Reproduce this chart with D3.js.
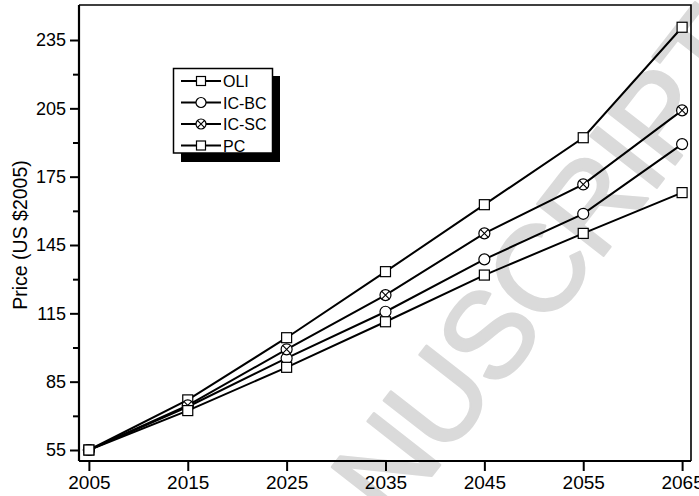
<!DOCTYPE html>
<html><head><meta charset="utf-8">
<script src="https://cdn.jsdelivr.net/npm/d3@7"></script>
<style>html,body{margin:0;padding:0;background:#fff;} svg{display:block}</style>
</head><body>
<script>
const years = [2005, 2015, 2025, 2035, 2045, 2055, 2065];
const seriesNames = ["OLI", "IC-BC", "IC-SC", "PC"];
const oli  = [55, 77.0, 104.3, 133.3, 162.7, 192.1, 240.6];
const icbc = [55, 74.0, 95.3, 115.7, 138.7, 158.7, 189.3];
const icsc = [55, 74.6, 99.2, 123.0, 150.1, 171.6, 204.1];
const pc   = [55, 72.3, 91.3, 111.3, 131.8, 150.1, 168.0];
const yTicks = [55, 85, 115, 145, 175, 205, 235];
const yMinorTicks = [70, 100, 130, 160, 190, 220];
const xTicks = [2005, 2015, 2025, 2035, 2045, 2055, 2065];
const yTitle = "Price (US $2005)";
const watermark = "MANUSCRIPT";

const seriesValues = [oli, icbc, icsc, pc];
const markerTypes = ["square", "circle", "crossCircle", "square"];

const W = 699, H = 496;
const svg = d3.select("body").append("svg").attr("width", W).attr("height", H);

const x = d3.scaleLinear().domain([2004, 2065.9]).range([79, 691]);
const y = d3.scaleLinear().domain([50.17, 250.37]).range([461, 5]);

// watermark
svg.append("text")
  .attr("transform", "translate(522,360) rotate(-52)")
  .attr("text-anchor", "middle")
  .attr("font-family", "'Liberation Sans', Arial, sans-serif")
  .attr("font-size", 122)
  .attr("letter-spacing", -3)
  .attr("fill", "#dadada")
  .attr("stroke", "#dadada")
  .attr("stroke-width", 2.5)
  .attr("stroke-linejoin", "round")
  .text(watermark);

// frame (top/right)
svg.append("path")
  .attr("d", `M${x.range()[0]},${y.range()[1]}H${x.range()[1]}V${y.range()[0]}`)
  .attr("fill", "none").attr("stroke", "#000").attr("stroke-width", 1.6);

const tickFont = "'Liberation Sans Narrow', 'Arial Narrow', sans-serif";

// left axis
const yAxis = svg.append("g").attr("transform", `translate(${x.range()[0]},0)`)
  .call(d3.axisLeft(y).tickValues(yTicks).tickSize(9).tickPadding(4).tickFormat(d3.format("d")));
svg.append("g").attr("transform", `translate(${x.range()[0]},0)`)
  .call(d3.axisLeft(y).tickValues(yMinorTicks).tickSize(6).tickFormat(""))
  .call(g => g.select(".domain").remove());
// bottom axis
const xAxis = svg.append("g").attr("transform", `translate(0,${y.range()[0]})`)
  .call(d3.axisBottom(x).tickValues(xTicks).tickSize(10).tickPadding(5).tickFormat(d3.format("d")));

svg.selectAll(".domain").attr("stroke-width", 2.2);
yAxis.select(".domain").attr("d", `M0,${y.range()[1]}V${y.range()[0]}`);
xAxis.select(".domain").attr("d", `M${x.range()[0]},0H${x.range()[1]}`);
svg.selectAll(".tick line").attr("stroke-width", 2);
yAxis.selectAll("text").attr("font-family", tickFont).attr("font-size", 18).attr("fill", "#000");
xAxis.selectAll("text").attr("font-family", tickFont).attr("font-size", 19).attr("fill", "#000");

// y title
svg.append("text")
  .attr("transform", `translate(27,${(y.range()[0] + y.range()[1]) / 2 + 2}) rotate(-90)`)
  .attr("text-anchor", "middle")
  .attr("font-family", "'Liberation Sans', Arial, sans-serif")
  .attr("font-size", 19.5)
  .text(yTitle);

// lines
const line = d3.line().x((d, i) => x(years[i])).y(d => y(d));
seriesValues.forEach(vals => {
  svg.append("path").datum(vals).attr("d", line)
    .attr("fill", "none").attr("stroke", "#000").attr("stroke-width", 2);
});

function drawMarker(g, type, cx, cy, s) {
  if (type === "square") {
    g.append("rect").attr("x", cx - s / 2).attr("y", cy - s / 2).attr("width", s).attr("height", s)
      .attr("fill", "#fff").attr("stroke", "#000").attr("stroke-width", 1.2);
  } else {
    const r = s / 2 + 0.5;
    g.append("circle").attr("cx", cx).attr("cy", cy).attr("r", r)
      .attr("fill", "#fff").attr("stroke", "#000").attr("stroke-width", 1.2);
    if (type === "crossCircle") {
      const k = r * 0.72;
      g.append("path").attr("d", `M${cx - k},${cy - k}L${cx + k},${cy + k}M${cx - k},${cy + k}L${cx + k},${cy - k}`)
        .attr("stroke", "#000").attr("stroke-width", 1.1);
    }
  }
}

seriesValues.forEach((vals, si) => {
  const g = svg.append("g");
  vals.forEach((v, i) => drawMarker(g, markerTypes[si], x(years[i]), y(v), 10));
});

// legend
const lg = svg.append("g");
lg.append("rect").attr("x", 181).attr("y", 76).attr("width", 99).attr("height", 86).attr("fill", "#000");
lg.append("rect").attr("x", 173.5).attr("y", 68.5).attr("width", 99).attr("height", 84.5)
  .attr("fill", "#fff").attr("stroke", "#000").attr("stroke-width", 1.5);
seriesNames.forEach((name, i) => {
  const yy = 81 + i * 21.5;
  lg.append("line").attr("x1", 181).attr("x2", 221).attr("y1", yy).attr("y2", yy)
    .attr("stroke", "#000").attr("stroke-width", 2);
  drawMarker(lg, markerTypes[i], 201, yy, 9);
  lg.append("text").attr("x", 223).attr("y", yy + 6)
    .attr("font-family", "'Liberation Sans', Arial, sans-serif").attr("font-size", 16)
    .text(name);
});
</script>
</body></html>
